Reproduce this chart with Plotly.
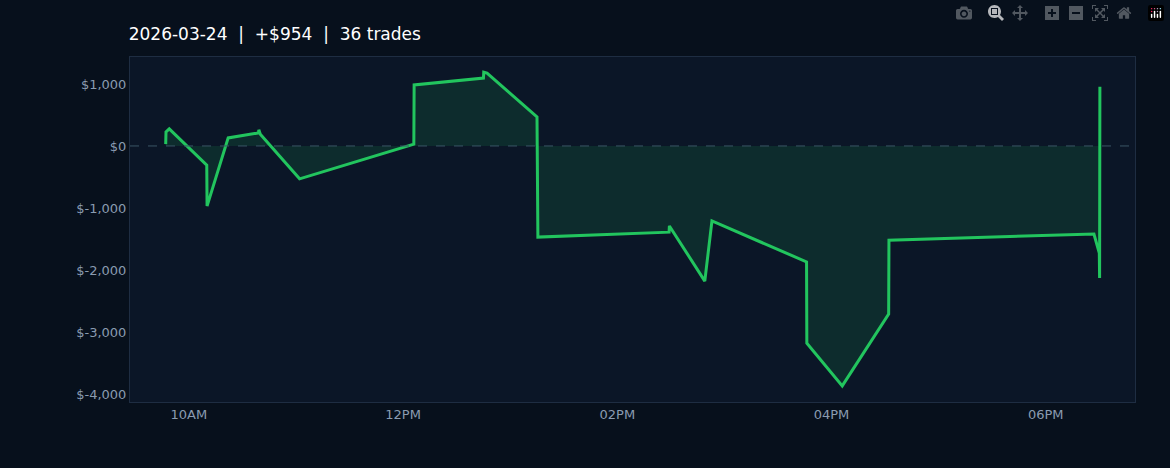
import plotly.graph_objects as go

times = ["09:47:00", "09:47:10", "09:49:00", "10:10:00", "10:10:10", "10:22:00",
         "10:39:00", "10:39:10", "10:40:00", "11:02:00", "12:06:00", "12:06:10",
         "12:45:00", "12:45:10", "12:47:00", "13:15:00", "13:15:30", "14:29:00",
         "14:29:10", "14:49:00", "14:53:00", "15:46:00", "15:46:10", "16:06:00",
         "16:32:00", "16:32:10", "18:27:00", "18:30:00", "18:30:10", "18:30:20"]
pnl = [30, 225, 275, -310, -970, 130,
       210, 260, 190, -530, 30, 985,
       1095, 1190, 1175, 470, -1470, -1390,
       -1290, -2180, -1210, -1870, -3180, -3870,
       -2710, -1520, -1420, -1730, -2130, 954]
x = ["2026-03-24 " + t for t in times]

fig = go.Figure()
fig.add_trace(go.Scatter(
    x=x, y=pnl, mode="lines", fill="tozeroy",
    fillcolor="rgba(34,197,94,0.13)",
    line=dict(color="#22c55e", width=3),
    hoverinfo="skip", showlegend=False,
))
fig.add_hline(y=0, line=dict(color="#3a5566", width=1, dash="dash"))

fig.update_layout(
    width=1170, height=468,
    paper_bgcolor="#07101c", plot_bgcolor="#0b1627",
    margin=dict(l=130, r=35, t=57, b=66),
    title=dict(text="2026-03-24  |  +$954  |  36 trades", x=0.11, xanchor="left",
               y=0.94, font=dict(color="#ffffff", size=17, family="DejaVu Sans")),
    font=dict(color="#8a9bb0", family="DejaVu Sans", size=13),
    xaxis=dict(range=["2026-03-24 09:27", "2026-03-24 18:50"], showgrid=False,
               tickformat="%I%p", dtick=7200000, tick0="2026-03-24 10:00",
               showline=True, linecolor="#1e2d42", mirror=True, zeroline=False),
    yaxis=dict(range=[-4130, 1435], showgrid=False, tickvals=[1000, 0, -1000, -2000, -3000, -4000],
               ticktext=["$1,000", "$0", "$-1,000", "$-2,000", "$-3,000", "$-4,000"],
               showline=True, linecolor="#1e2d42", mirror=True, zeroline=False),
)
fig.write_html("out.html",
               post_script="document.body.style.margin='0';document.body.style.background='#07101c';")
